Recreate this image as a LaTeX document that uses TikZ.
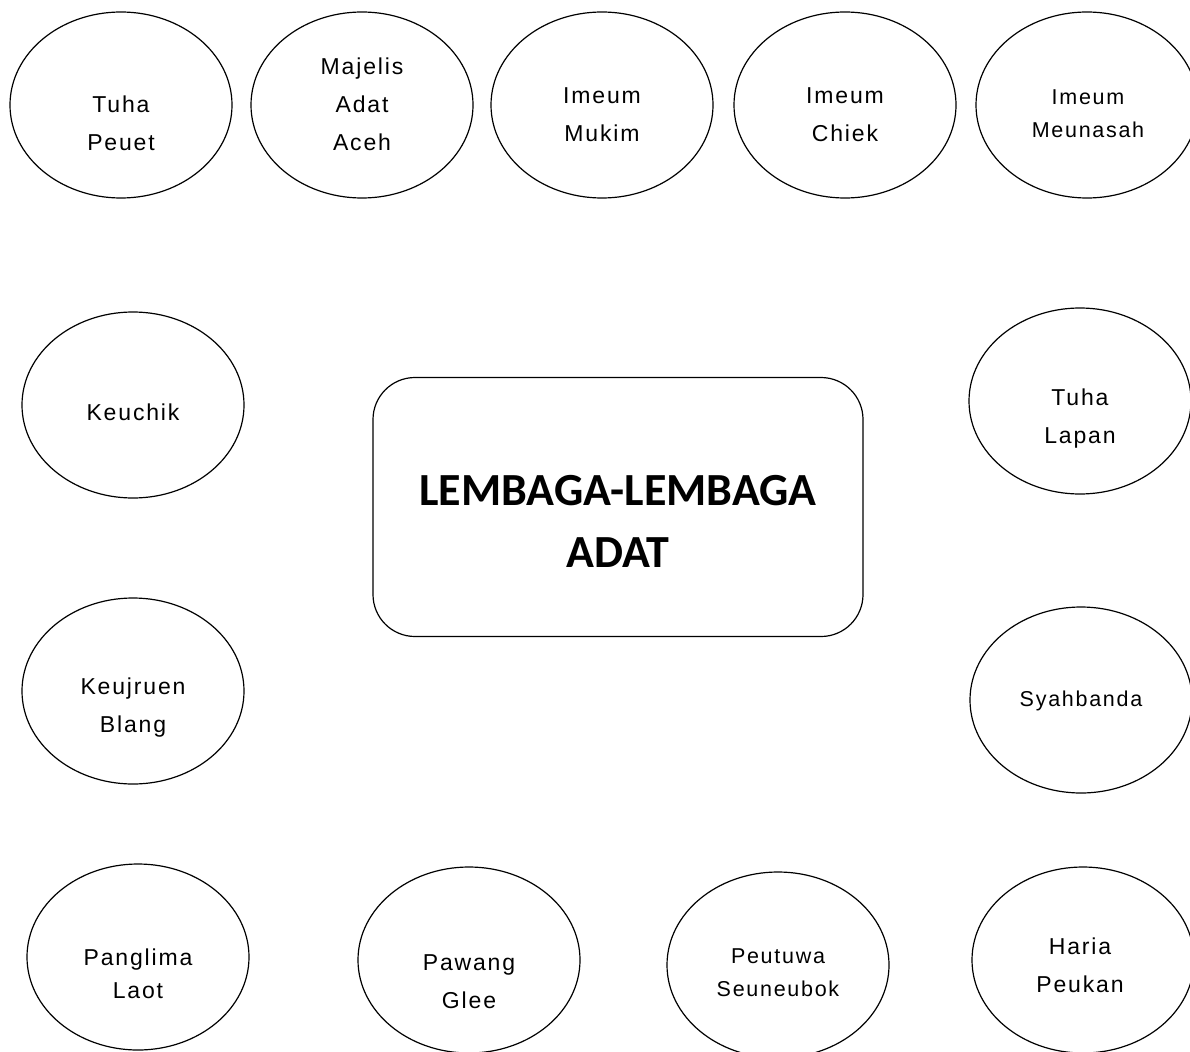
\documentclass[tikz,border=0pt]{standalone}
\usepackage{fontspec}
\setmainfont{Liberation Sans}[LetterSpace=8]
\newfontfamily\titlefont{Carlito}
\usetikzlibrary{
    shapes.geometric,
    positioning
}
\tikzset{
    blob/.style={draw, ellipse, line width=1.2pt, minimum width=222pt, minimum height=186pt, inner sep=0pt},
    lbl/.style={align=center, font=\fontsize{23}{38}\selectfont},
    lblsm/.style={align=center, font=\fontsize{21.5}{33}\selectfont},
    centre/.style={draw, rounded corners=42pt, line width=1.2pt, minimum width=490pt, minimum height=259pt, inner sep=0pt}
}

\begin{document}
\begin{tikzpicture}[x=1pt, y=-1pt]
                                    \useasboundingbox (0, 0) rectangle (1190, 1051);
                                    \clip (0, 0) rectangle (1190, 1051);
                                    % ellipses
                                    \node[blob] (tp) at (121, 105) {};
                                    \node[blob] (maa) at (362, 105) {};
                                    \node[blob] (im) at (602, 105) {};
                                    \node[blob] (ic) at (845, 105) {};
                                    \node[blob] (imn) at (1087, 105) {};
                                    \node[blob] (kc) at (133, 405) {};
                                    \node[blob] (tl) at (1080, 401) {};
                                    \node[blob] (kb) at (133, 691) {};
                                    \node[blob] (sb) at (1081, 700) {};
                                    \node[blob] (pl) at (138, 957) {};
                                    \node[blob] (pg) at (469, 960) {};
                                    \node[blob] (ps) at (778, 965) {};
                                    \node[blob] (hp) at (1083, 960) {};
                                    % labels
                                    \node[lbl] (tpt) at (121, 123) {Tuha\\Peuet};
                                    \node[lbl] (maat) at (362, 104) {Majelis\\Adat\\Aceh};
                                    \node[lbl] (imt) at (602, 115) {Imeum\\Mukim};
                                    \node[lbl] (ict) at (845, 115) {Imeum\\Chiek};
                                    \node[lblsm] (imnt) at (1088, 114) {Imeum\\Meunasah};
                                    \node[lbl] (kct) at (133, 412) {Keuchik};
                                    \node[lbl] (tlt) at (1080, 419) {Tuha\\Lapan};
                                    \node[lbl] (kbt) at (133, 708) {Keujruen\\Blang};
                                    \node[lblsm] (sbt) at (1081, 701) {Syahbanda};
                                    \node[lbl, font=\fontsize{23}{33}\selectfont] (plt) at (138, 974) {Panglima\\Laot};
                                    \node[lbl] (pgt) at (469, 982) {Pawang\\Glee};
                                    \node[lblsm] (pst) at (778, 973) {Peutuwa\\Seuneubok};
                                    \node[lbl] (hpt) at (1080, 965) {Haria\\Peukan};
                                    % centre
                                    \node[centre] (la) at (618, 507) {};
                                    \node[align=center, font=\titlefont\bfseries\fontsize{46}{62}\selectfont] (lat) at (618, 521) {LEMBAGA-LEMBAGA\\ADAT};
                                \end{tikzpicture}
\end{document}
